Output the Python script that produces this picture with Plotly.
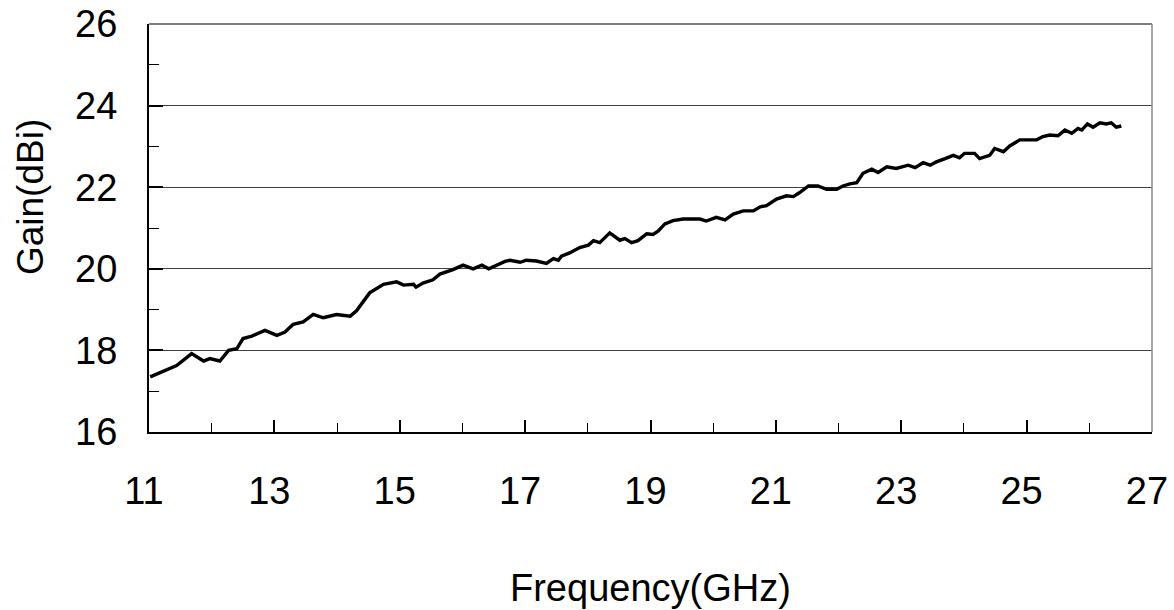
import plotly.graph_objects as go

# Gain curve
freq_ghz = [11.02, 11.28, 11.44, 11.55, 11.68, 11.87, 11.97, 12.13, 12.27, 12.40,
            12.50, 12.64, 12.85, 13.04, 13.17, 13.30, 13.46, 13.62, 13.78, 13.99,
            14.21, 14.31, 14.52, 14.74, 14.95, 15.06, 15.22, 15.26, 15.37, 15.53,
            15.64, 15.85, 16.01, 16.17, 16.31, 16.42, 16.55, 16.68, 16.76, 16.92,
            17.02, 17.18, 17.34, 17.45, 17.53, 17.58, 17.71, 17.87, 18.01, 18.09,
            18.19, 18.35, 18.51, 18.59, 18.70, 18.80, 18.94, 19.04, 19.12, 19.23,
            19.36, 19.52, 19.79, 19.89, 20.05, 20.19, 20.32, 20.48, 20.64, 20.75,
            20.85, 21.01, 21.17, 21.28, 21.38, 21.52, 21.67, 21.81, 21.97, 22.07,
            22.18, 22.29, 22.39, 22.53, 22.63, 22.77, 22.92, 23.11, 23.22, 23.35,
            23.46, 23.56, 23.70, 23.83, 23.93, 24.01, 24.17, 24.25, 24.41, 24.49,
            24.63, 24.73, 24.89, 25.16, 25.26, 25.37, 25.50, 25.61, 25.72, 25.82,
            25.88, 25.97, 26.06, 26.17, 26.27, 26.35, 26.43, 26.51]
gain_dbi = [17.35, 17.51, 17.63, 17.76, 17.92, 17.74, 17.80, 17.74, 18.00, 18.04,
            18.29, 18.35, 18.49, 18.37, 18.45, 18.64, 18.70, 18.88, 18.80, 18.88,
            18.84, 18.97, 19.41, 19.62, 19.68, 19.60, 19.62, 19.55, 19.65, 19.73,
            19.87, 19.98, 20.09, 20.00, 20.09, 20.00, 20.09, 20.18, 20.21, 20.16,
            20.21, 20.19, 20.13, 20.25, 20.21, 20.31, 20.39, 20.52, 20.58, 20.69,
            20.64, 20.88, 20.70, 20.74, 20.64, 20.69, 20.86, 20.84, 20.92, 21.10,
            21.18, 21.22, 21.22, 21.17, 21.26, 21.20, 21.34, 21.42, 21.42, 21.52,
            21.55, 21.71, 21.79, 21.77, 21.87, 22.03, 22.03, 21.95, 21.95, 22.03,
            22.08, 22.11, 22.34, 22.44, 22.36, 22.50, 22.46, 22.54, 22.48, 22.60,
            22.54, 22.62, 22.70, 22.78, 22.72, 22.83, 22.83, 22.70, 22.78, 22.95,
            22.87, 23.01, 23.16, 23.16, 23.24, 23.28, 23.26, 23.40, 23.32, 23.44,
            23.40, 23.55, 23.47, 23.58, 23.55, 23.58, 23.47, 23.50]

x_ticks = [11, 13, 15, 17, 19, 21, 23, 25, 27]
y_ticks = [16, 18, 20, 22, 24, 26]

FONT = "Liberation Sans, Arial, sans-serif"

fig = go.Figure()
fig.add_trace(go.Scatter(x=freq_ghz, y=gain_dbi, mode="lines",
                         line=dict(color="black", width=3.4),
                         showlegend=False))

fig.update_xaxes(range=[11, 27], tickvals=x_ticks, automargin=False,
                 ticks="inside", ticklen=12, tickwidth=1.5, tickcolor="black",
                 minor=dict(dtick=1, tick0=11, ticks="inside", ticklen=9,
                            tickwidth=1.2, tickcolor="black"),
                 showline=True, linecolor="black", linewidth=2,
                 showgrid=False, zeroline=False,
                 tickfont=dict(family=FONT, size=38, color="black"),
                 ticklabelstandoff=24, ticklabelshift=-5,
                 ticklabeloverflow="allow")
fig.update_yaxes(range=[16, 26], tickvals=y_ticks, automargin=False,
                 ticks="inside", ticklen=14, tickwidth=1.5, tickcolor="black",
                 minor=dict(dtick=1, tick0=16, ticks="inside", ticklen=10,
                            tickwidth=1.2, tickcolor="black", showgrid=False),
                 showline=True, linecolor="black", linewidth=2,
                 showgrid=True, gridcolor="#404040", gridwidth=1,
                 zeroline=False,
                 tickfont=dict(family=FONT, size=38, color="black"),
                 ticklabelstandoff=22, ticklabeloverflow="allow")

# top and right frame edges
fig.add_shape(type="line", xref="paper", yref="paper", x0=0, x1=1, y0=1, y1=1,
              line=dict(color="#505050", width=1.5))
fig.add_shape(type="line", xref="paper", yref="paper", x0=1, x1=1, y0=0, y1=1,
              line=dict(color="#8a8a8a", width=1.5))

fig.add_annotation(text="Frequency(GHz)", xref="paper", yref="paper",
                   x=0.5, y=-0.382, xanchor="center", yanchor="middle",
                   showarrow=False, font=dict(family=FONT, size=38, color="black"))
fig.add_annotation(text="Gain(dBi)", xref="paper", yref="paper",
                   x=-0.1176, y=0.576, xanchor="center", yanchor="middle",
                   textangle=-90, showarrow=False,
                   font=dict(family=FONT, size=37, color="black"))

fig.update_layout(width=1174, height=610,
                  margin=dict(l=149, r=22, t=24, b=178),
                  plot_bgcolor="white", paper_bgcolor="white")

# drop the default body margin so the figure fills the window exactly
fig.write_html("out.html", config={"displayModeBar": False},
               post_script="document.body.style.margin='0px';")
